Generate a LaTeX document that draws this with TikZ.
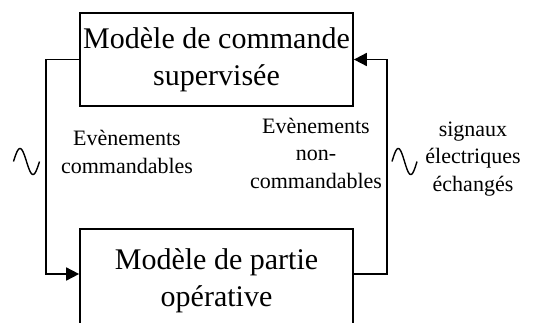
\documentclass[tikz,border=0pt]{standalone}
\usepackage{fontspec}
\setmainfont{Liberation Serif}
\usetikzlibrary{arrows.meta}
\begin{document}
\begin{tikzpicture}[x=1pt,y=-1pt,
  box/.style={draw,line width=1.7pt,minimum width=273pt,inner sep=0pt,align=center,
    font=\fontsize{30pt}{37pt}\selectfont},
  lbl/.style={align=center,inner sep=0pt,font=\fontsize{22pt}{27.5pt}\selectfont},
  arr/.style={line width=1.7pt,-{Triangle[length=13pt,width=13pt]}},
  wave/.style={line width=1.4pt}]
\useasboundingbox (0,0) rectangle (553,322);
\clip (0,0) rectangle (553,322);
\node[box,minimum height=93pt] (top) at (216.5,59.5) {Modèle de commande\\supervisée};
\node[box,minimum height=104pt] (bot) at (216.5,281) {Modèle de partie\\opérative};
\coordinate (lc) at (45.7,59);
\coordinate (rc) at (387,59);
\coordinate (ay) at (0,274);
\draw[arr] (top.west) -- (top.west -| lc) -- (ay -| lc) -- (ay -| bot.west);
\draw[arr] (ay -| bot.east) -- (ay -| rc) -- (top.east -| rc) -- (top.east);
\node[lbl] (l1) at (127,152) {Evènements\\commandables};
\node[lbl] (l2) at (316,153) {Evènements\\non-\\commandables};
\node[lbl] (l3) at (473,159) {signaux\\électriques\\échangés};
\draw[wave] plot[domain=0:1,samples=50] ({13.5+26*\x},{161.5-13*sin(360*\x)});
\draw[wave] plot[domain=0:1,samples=50] ({392+25*\x},{161.5-13*sin(360*\x)});
\end{tikzpicture}
\end{document}
